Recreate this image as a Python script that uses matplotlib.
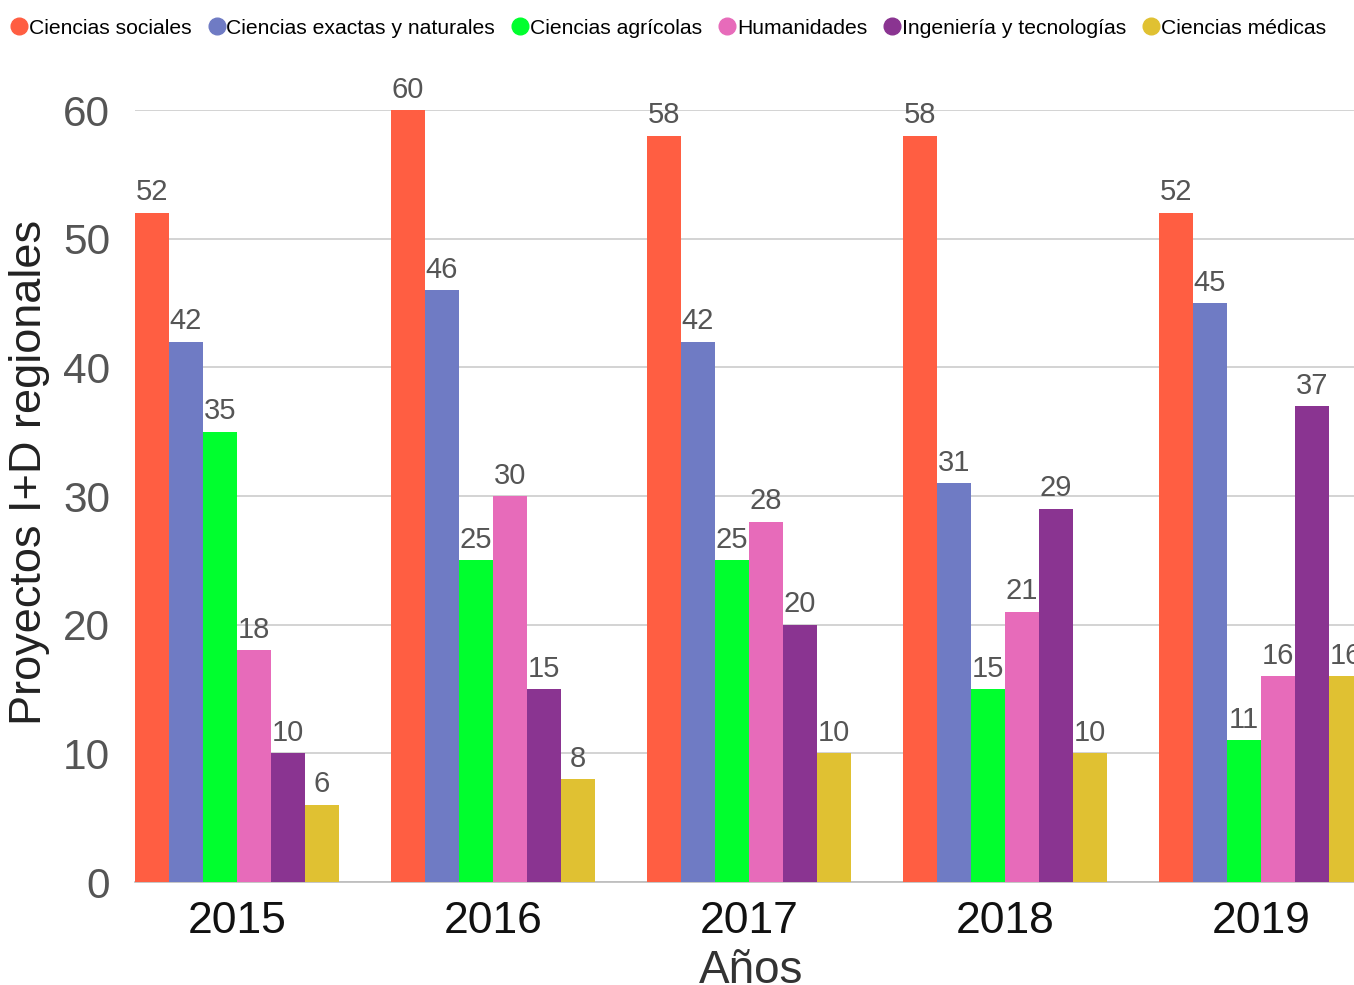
import matplotlib.pyplot as plt
import numpy as np
from matplotlib.lines import Line2D

plt.rcParams['font.family'] = ['Liberation Sans', 'DejaVu Sans']

years = ["2015", "2016", "2017", "2018", "2019"]
categories = ["Ciencias sociales", "Ciencias exactas y naturales", "Ciencias agrícolas",
              "Humanidades", "Ingeniería y tecnologías", "Ciencias médicas"]
colors = ["#FF5E42", "#6F7BC4", "#00FF2E", "#E76BBA", "#8A3491", "#E0C132"]

sociales = [52, 60, 58, 58, 52]
exactas = [42, 46, 42, 31, 45]
agricolas = [35, 25, 25, 15, 11]
humanidades = [18, 30, 28, 21, 16]
ingenieria = [10, 15, 20, 29, 37]
medicas = [6, 8, 10, 10, 16]

series = [sociales, exactas, agricolas, humanidades, ingenieria, medicas]

fig = plt.figure(figsize=(13.54, 9.85), dpi=100)
ax = fig.add_axes([135 / 1354, 1 - 882 / 985, 1 - 135 / 1354, (882 - 110) / 985])

x = np.arange(len(years))
w = 34 / 256
for i, (vals, col) in enumerate(zip(series, colors)):
    pos = x - 2.5 * w + i * w
    ax.bar(pos, vals, width=w, color=col, zorder=3)
    for p, v in zip(pos, vals):
        ax.text(p, v + 0.5, str(v), ha='center', va='bottom', fontsize=21,
                color='#555555', zorder=4)

ax.set_xlim(-102 / 256, (1354 - 237) / 256)
ax.set_ylim(0, 60)
ax.set_yticks(range(0, 61, 10))
ax.grid(axis='y', color='#cccccc', linewidth=1.2, zorder=0)
for s in ['top', 'right', 'left']:
    ax.spines[s].set_visible(False)
ax.spines['bottom'].set_color('#bbbbbb')
ax.spines['bottom'].set_linewidth(1.2)
ax.tick_params(axis='y', length=0, labelsize=30.5, labelcolor='#555555', pad=18)
ax.tick_params(axis='x', length=0, labelsize=32, labelcolor='#111111', pad=14)
ax.set_xticks(x)
ax.set_xticklabels(years)
ax.set_xlabel("Años", fontsize=33, color='#333333')
ax.xaxis.set_label_coords(0.505, -0.0868)
ax.set_ylabel("Proyectos I+D regionales", fontsize=32.5, color='#222222')
ax.yaxis.set_label_coords(-0.0697, 0.531)

handles = [Line2D([], [], marker='o', linestyle='', markersize=12, color=c) for c in colors]
fig.legend(handles, categories, loc='upper left', bbox_to_anchor=(-0.006, 0.996), ncol=6,
           frameon=False, fontsize=15.2, handletextpad=-0.15, columnspacing=0.6,
           handlelength=1.2, borderaxespad=0.3)

fig.savefig("out.png", dpi=100)
